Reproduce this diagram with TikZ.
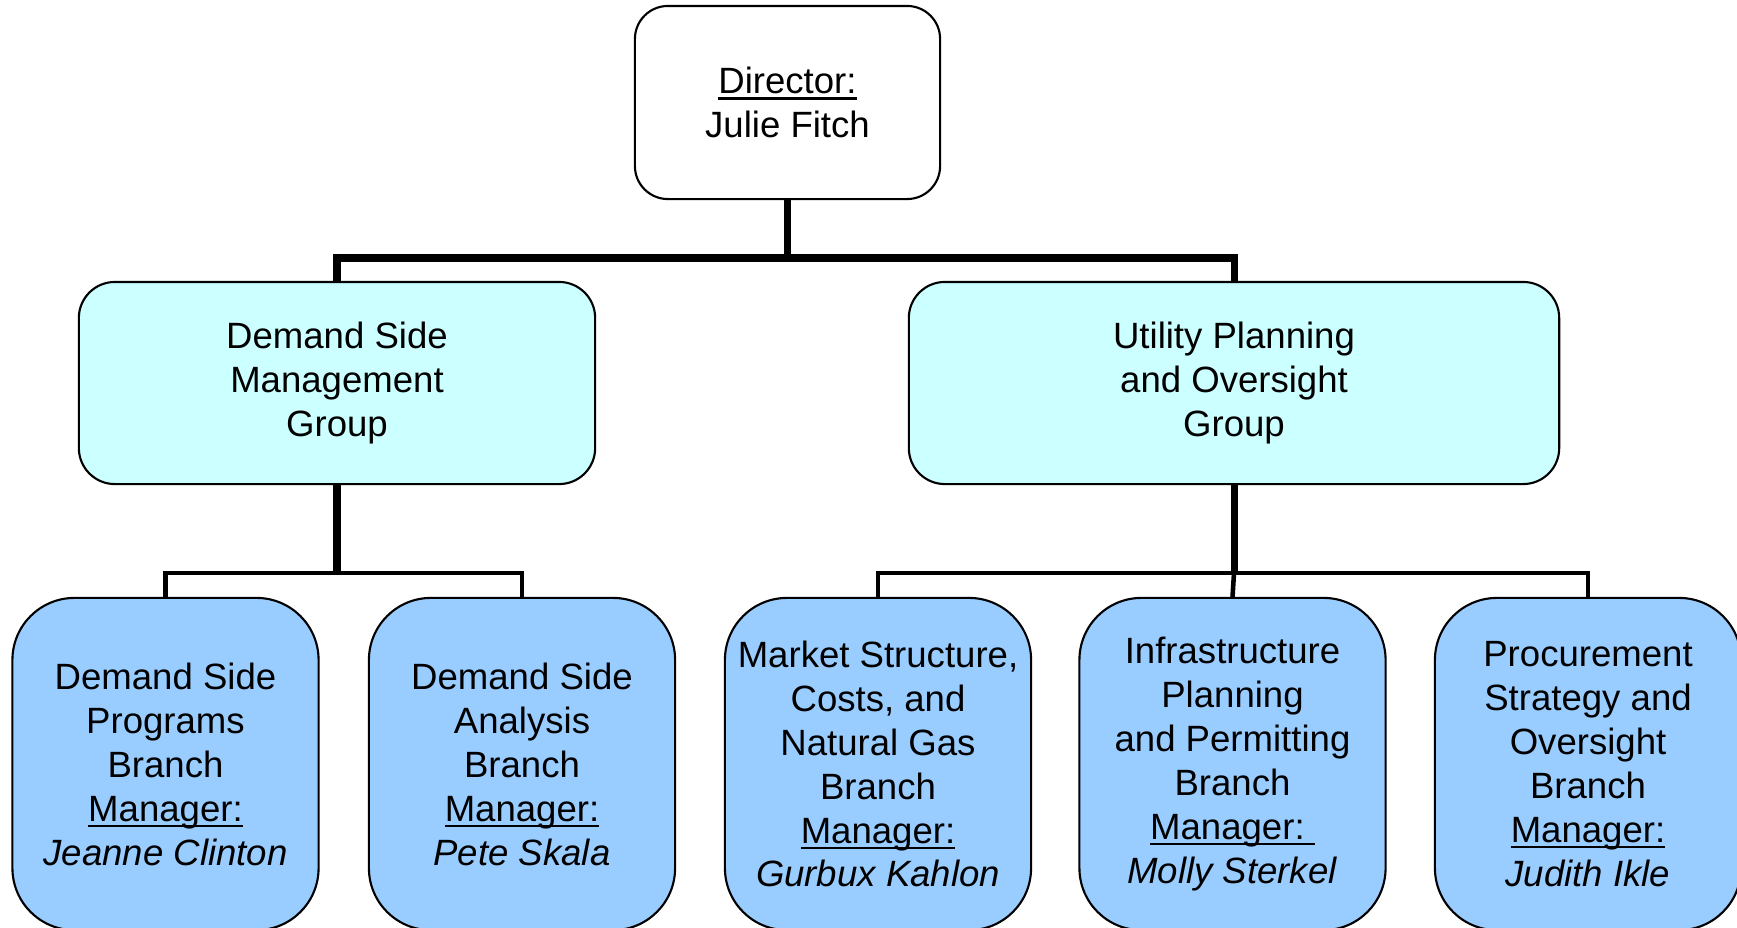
\documentclass[tikz,border=0pt]{standalone}
\usepackage{fontspec}
\setmainfont{Liberation Sans}
\usetikzlibrary{calc,positioning}
\definecolor{grpcyan}{HTML}{CCFFFF}
\definecolor{brblue}{HTML}{99CCFF}
\newcommand{\undl}[1]{\setbox0\hbox{#1}\rlap{\rule[-1.7pt]{\wd0}{0.6pt}}\box0}
\newcommand{\mgr}[1]{\undl{Manager:}\\\textit{#1}}
\begin{document}
\begin{tikzpicture}[x=0.01cm,y=-0.01cm,
  box/.style={draw=black,line width=0.6pt,align=center,inner sep=0pt,
    font=\fontsize{10.4}{12.5}\selectfont},
  dirbox/.style={box,fill=white,rounded corners=0.33cm,minimum width=3.05cm,minimum height=1.93cm},
  grpbox/.style={box,fill=grpcyan,rounded corners=0.36cm,minimum height=2.02cm},
  brbox/.style={box,fill=brblue,rounded corners=0.62cm,minimum width=3.06cm,minimum height=3.32cm},
  trunk/.style={line width=2pt},
  twig/.style={line width=1.3pt}]
\useasboundingbox (0,0) rectangle (1737,927);
%\draw [thin,red] (0,0) rectangle (1737,927);
\node[dirbox] (dir) at (787.5,102.5) {\undl{Director:}\\Julie Fitch};
\node[grpbox,minimum width=5.16cm] (dsm) at (337,383) {Demand Side\\Management\\Group};
\node[grpbox,minimum width=6.50cm] (upo) at (1234,383) {Utility Planning\\and Oversight\\Group};
\node[brbox] (dsp) at (165.5,764) {Demand Side\\Programs\\Branch\\\mgr{Jeanne Clinton}};
\node[brbox] (dsa) at (522,764) {Demand Side\\Analysis\\Branch\\\mgr{Pete Skala}};
\node[brbox] (msc) at (878,764) {Market Structure,\\Costs, and\\Natural Gas\\Branch\\\mgr{Gurbux Kahlon}};
\node[brbox] (ipp) at (1232.5,764) {Infrastructure\\Planning\\and Permitting\\Branch\\\undl{Manager:\ }\\\textit{Molly Sterkel}};
\node[brbox] (pso) at (1588,764) {Procurement\\Strategy and\\Oversight\\Branch\\\mgr{Judith Ikle}};
% joints
\coordinate (jdir) at (787.5,258);
\coordinate (jdsm) at (337,573);
\coordinate (jupo) at (1234,573);
\draw[trunk] (dir.south) -- (jdir);
\draw[trunk] (dsm.north) |- (jdir) -| (upo.north);
\draw[line width=2.5pt] (dsm.south) -- (jdsm);
\draw[twig] (dsp.north) |- (jdsm) -| (dsa.north);
\draw[trunk] (upo.south) -- (jupo);
\draw[twig] (msc.north) |- (jupo) -| (pso.north);
\draw[twig] (jupo) -- (ipp.north);
\end{tikzpicture}
\end{document}
